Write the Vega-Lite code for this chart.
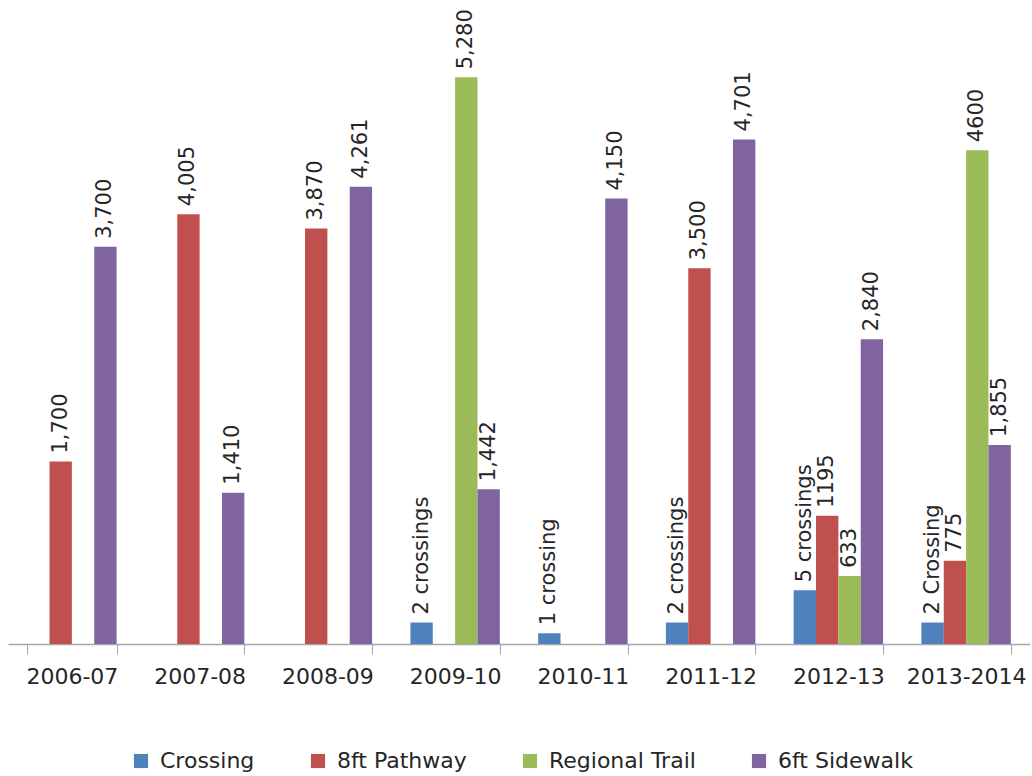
{
  "$schema": "https://vega.github.io/schema/vega-lite/v6.json",
  "width": 1022,
  "height": 644,
  "autosize": {"type": "none"},
  "padding": {"left": 8, "top": 0, "right": 2, "bottom": 132},
  "background": "white",
  "config": {
    "view": {"stroke": null},
    "font": "DejaVu Sans",
    "text": {"font": "DejaVu Sans"}
  },
  "data": {
    "values": [
      {"year": "2006-07", "series": "8ft Pathway", "value": 1700, "label": "1,700"},
      {"year": "2006-07", "series": "6ft Sidewalk", "value": 3700, "label": "3,700"},
      {"year": "2007-08", "series": "8ft Pathway", "value": 4005, "label": "4,005"},
      {"year": "2007-08", "series": "6ft Sidewalk", "value": 1410, "label": "1,410"},
      {"year": "2008-09", "series": "8ft Pathway", "value": 3870, "label": "3,870"},
      {"year": "2008-09", "series": "6ft Sidewalk", "value": 4261, "label": "4,261"},
      {"year": "2009-10", "series": "Crossing", "value": 200, "label": "2 crossings"},
      {"year": "2009-10", "series": "Regional Trail", "value": 5280, "label": "5,280"},
      {"year": "2009-10", "series": "6ft Sidewalk", "value": 1442, "label": "1,442"},
      {"year": "2010-11", "series": "Crossing", "value": 100, "label": "1 crossing"},
      {"year": "2010-11", "series": "6ft Sidewalk", "value": 4150, "label": "4,150"},
      {"year": "2011-12", "series": "Crossing", "value": 200, "label": "2 crossings"},
      {"year": "2011-12", "series": "8ft Pathway", "value": 3500, "label": "3,500"},
      {"year": "2011-12", "series": "6ft Sidewalk", "value": 4701, "label": "4,701"},
      {"year": "2012-13", "series": "Crossing", "value": 500, "label": "5 crossings"},
      {"year": "2012-13", "series": "8ft Pathway", "value": 1195, "label": "1195"},
      {"year": "2012-13", "series": "Regional Trail", "value": 633, "label": "633"},
      {"year": "2012-13", "series": "6ft Sidewalk", "value": 2840, "label": "2,840"},
      {"year": "2013-2014", "series": "Crossing", "value": 200, "label": "2 Crossing"},
      {"year": "2013-2014", "series": "8ft Pathway", "value": 775, "label": "775"},
      {"year": "2013-2014", "series": "Regional Trail", "value": 4600, "label": "4600"},
      {"year": "2013-2014", "series": "6ft Sidewalk", "value": 1855, "label": "1,855"}
    ]
  },
  "encoding": {
    "x": {
      "field": "year",
      "type": "nominal",
      "sort": ["2006-07", "2007-08", "2008-09", "2009-10", "2010-11", "2011-12", "2012-13", "2013-2014"],
      "scale": {"paddingInner": 0.3, "paddingOuter": 0.15},
      "axis": {
        "title": null,
        "labelAngle": 0,
        "labelFontSize": 22,
        "labelColor": "#262626",
        "labelPadding": 12,
        "tickBand": "extent",
        "tickSize": 10,
        "tickColor": "#a6a6a6",
        "domainColor": "#a6a6a6",
        "domainWidth": 1.5,
        "grid": false
      }
    },
    "xOffset": {
      "field": "series",
      "type": "nominal",
      "scale": {"domain": ["Crossing", "8ft Pathway", "Regional Trail", "6ft Sidewalk"], "paddingInner": 0, "paddingOuter": 0}
    },
    "y": {
      "field": "value",
      "type": "quantitative",
      "scale": {"domain": [0, 6000], "nice": false},
      "axis": null
    }
  },
  "layer": [
    {
      "mark": {"type": "bar"},
      "encoding": {
        "color": {
          "field": "series",
          "type": "nominal",
          "scale": {
            "domain": ["Crossing", "8ft Pathway", "Regional Trail", "6ft Sidewalk"],
            "range": ["#4F81BD", "#C0504D", "#9BBB59", "#8064A2"]
          },
          "legend": {
            "title": null,
            "orient": "none",
            "legendX": 122,
            "legendY": 750,
            "direction": "horizontal",
            "symbolType": "square",
            "symbolSize": 200,
            "symbolStrokeWidth": 0,
            "labelFontSize": 22,
            "labelColor": "#262626",
            "labelOffset": 8,
            "columnPadding": 52
          }
        }
      }
    },
    {
      "mark": {"type": "text", "angle": 270, "align": "left", "baseline": "middle", "dx": 8, "fontSize": 21, "color": "#262626"},
      "encoding": {
        "text": {"field": "label"}
      }
    }
  ]
}
